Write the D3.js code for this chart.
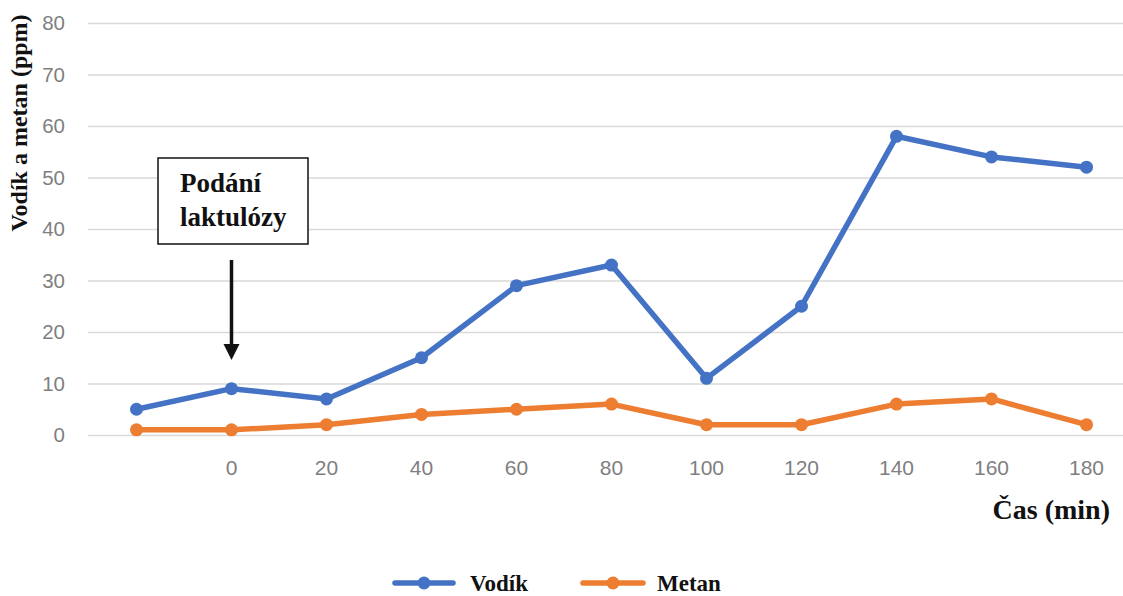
<!DOCTYPE html>
<html>
<head>
<meta charset="utf-8">
<script src="https://cdn.jsdelivr.net/npm/d3@7"></script>
<style>
  html, body { margin: 0; padding: 0; background: #fff; }
  svg { display: block; }
</style>
</head>
<body>
<svg id="chart" width="1123" height="596"></svg>
<script>
// Time points (minutes); the first point is the baseline before lactulose.
const categories = ["", "0", "20", "40", "60", "80", "100", "120", "140", "160", "180"];
const vodik = [5, 9, 7, 15, 29, 33, 11, 25, 58, 54, 52];
const metan = [1, 1, 2, 4, 5, 6, 2, 2, 6, 7, 2];
const yTicks = [0, 10, 20, 30, 40, 50, 60, 70, 80];

const seriesList = [
  { name: "Vodík", values: vodik, color: "#4472C4" },
  { name: "Metan", values: metan, color: "#ED7D31" }
];

const svg = d3.select("#chart");

const x = d3.scaleBand().domain(categories).range([89, 1134]);
const y = d3.scaleLinear().domain([0, 80]).range([435, 23]);
const cx = c => x(c) + x.bandwidth() / 2;

const tickFont = "'Liberation Sans', Arial, sans-serif";
const serif = "'Liberation Serif', 'Times New Roman', serif";

// Horizontal gridlines + y tick labels
const yAxis = d3.axisLeft(y).tickValues(yTicks).tickSize(-(1134 - 88)).tickPadding(23);
const gy = svg.append("g").attr("transform", "translate(88,0)").call(yAxis);
gy.select(".domain").remove();
gy.selectAll(".tick line").attr("stroke", "#d9d9d9").attr("stroke-width", 1.3);
gy.selectAll(".tick text")
  .attr("fill", "#7f7f7f").attr("font-family", tickFont).attr("font-size", 20.5);

// Category labels
const xAxis = d3.axisBottom(x).tickSize(0).tickPadding(25);
const gx = svg.append("g").attr("transform", "translate(0,435)").call(xAxis);
gx.select(".domain").remove();
gx.selectAll(".tick text")
  .attr("fill", "#7f7f7f").attr("font-family", tickFont).attr("font-size", 21);

// Series lines and markers
const line = d3.line().x((d, i) => cx(categories[i])).y(d => y(d));
seriesList.forEach(s => {
  svg.append("path")
    .datum(s.values)
    .attr("d", line)
    .attr("fill", "none")
    .attr("stroke", s.color)
    .attr("stroke-width", 5.5)
    .attr("stroke-linejoin", "round")
    .attr("stroke-linecap", "round");
  svg.append("g").selectAll("circle")
    .data(s.values)
    .join("circle")
    .attr("cx", (d, i) => cx(categories[i]))
    .attr("cy", d => y(d))
    .attr("r", 6.5)
    .attr("fill", s.color);
});

// Axis titles
svg.append("text")
  .attr("transform", "translate(27,123) rotate(-90)")
  .attr("text-anchor", "middle")
  .attr("font-family", serif).attr("font-weight", "bold").attr("font-size", 24)
  .attr("fill", "#111")
  .text("Vodík a metan (ppm)");

svg.append("text")
  .attr("x", 1110).attr("y", 519)
  .attr("text-anchor", "end")
  .attr("font-family", serif).attr("font-weight", "bold").attr("font-size", 28)
  .attr("fill", "#111")
  .text("Čas (min)");

// Annotation: lactulose administration at t = 0
const ax = cx("0");
svg.append("rect")
  .attr("x", 158).attr("y", 158).attr("width", 150).attr("height", 86)
  .attr("fill", "#fff").attr("stroke", "#111").attr("stroke-width", 1.5);
svg.append("text")
  .attr("x", 180).attr("y", 192)
  .attr("font-family", serif).attr("font-weight", "bold").attr("font-size", 27)
  .attr("fill", "#111")
  .text("Podání");
svg.append("text")
  .attr("x", 180).attr("y", 226)
  .attr("font-family", serif).attr("font-weight", "bold").attr("font-size", 27)
  .attr("fill", "#111")
  .text("laktulózy");
svg.append("line")
  .attr("x1", ax).attr("x2", ax).attr("y1", 260).attr("y2", 348)
  .attr("stroke", "#111").attr("stroke-width", 3.5);
svg.append("path")
  .attr("d", `M${ax - 8},344 L${ax + 8},344 L${ax},360 Z`)
  .attr("fill", "#111");

// Legend
const legendItems = [
  { s: seriesList[0], x0: 395, x1: 453, tx: 470 },
  { s: seriesList[1], x0: 583, x1: 643, tx: 657 }
];
legendItems.forEach(it => {
  svg.append("line")
    .attr("x1", it.x0).attr("x2", it.x1).attr("y1", 583).attr("y2", 583)
    .attr("stroke", it.s.color).attr("stroke-width", 5.5).attr("stroke-linecap", "round");
  svg.append("circle")
    .attr("cx", (it.x0 + it.x1) / 2).attr("cy", 583).attr("r", 6.5)
    .attr("fill", it.s.color);
  svg.append("text")
    .attr("x", it.tx).attr("y", 591)
    .attr("font-family", serif).attr("font-weight", "bold").attr("font-size", 23)
    .attr("fill", "#111")
    .text(it.s.name);
});
</script>
</body>
</html>
